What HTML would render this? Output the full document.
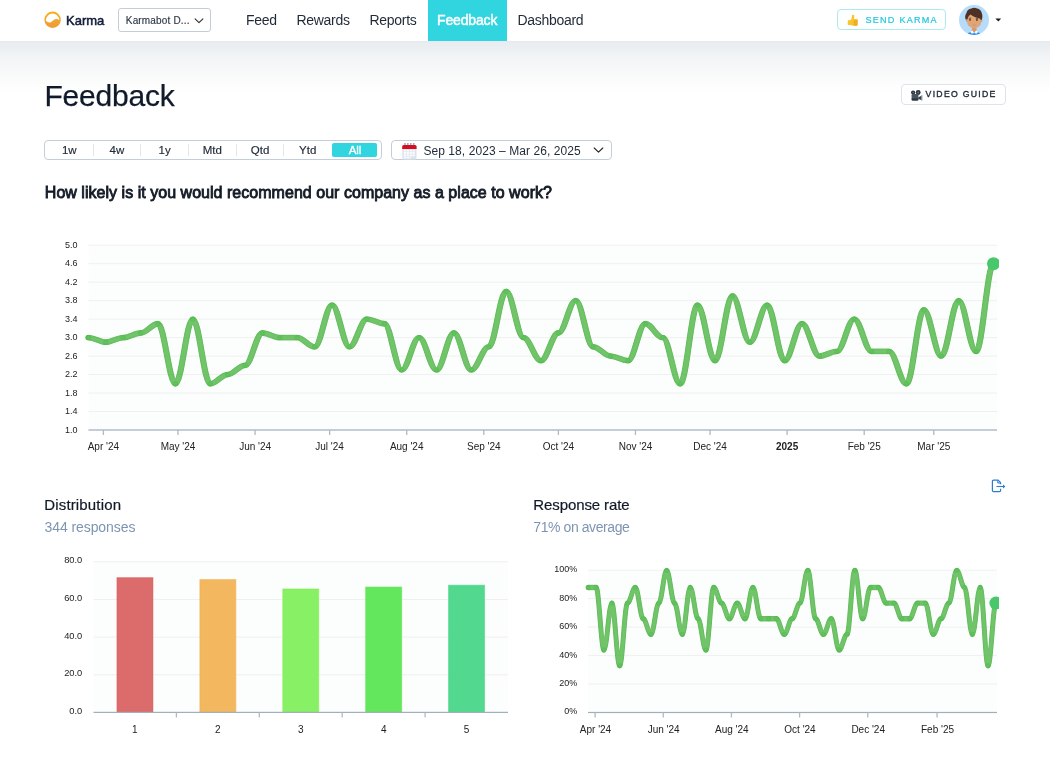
<!DOCTYPE html>
<html lang="en">
<head>
<meta charset="utf-8">
<title>Karma – Feedback</title>
<style>
*{box-sizing:border-box;margin:0;padding:0}
html,body{width:1050px;height:774px;overflow:hidden;background:#fff}
body{font-family:"Liberation Sans",sans-serif;color:#111827;position:relative;-webkit-font-smoothing:antialiased}
.abs{position:absolute;white-space:nowrap}
#fade{left:0;top:41px;width:1050px;height:52px;background:linear-gradient(#e4e7ec,#e9ecf0 3%,#f3f5f7 35%,#f9fafa 66%,#fff)}
#hdr{left:0;top:0;width:1050px;height:41px;background:#fff}
#brand{left:66px;top:13.100px;font-size:13px;color:#101c3a;line-height:16px;-webkit-text-stroke:.5px #101c3a}
#sel{left:118px;top:8px;width:93px;height:24px;border:1px solid #c3cedb;border-radius:3px;background:#fff}
#sel span{position:absolute;left:6.8px;top:6.4px;font-size:10px;line-height:12px;color:#2e3844;letter-spacing:.17px;-webkit-text-stroke:.15px #2e3844}
.nav{top:11.8px;font-size:14px;line-height:16px;color:#1f2937;letter-spacing:-.3px}
#tab{left:427.7px;top:0;width:79.6px;height:41px;background:#30d5e0}
#tabt{color:#fff;letter-spacing:-.15px;-webkit-text-stroke:.45px #fff}
#send{left:837px;top:9px;width:109.3px;height:20.6px;border:1px solid #b0e8f0;border-radius:4px;background:#fdffff}
#send span{position:absolute;left:27.5px;top:4.900px;font-size:9.1px;line-height:11px;letter-spacing:1.22px;color:#22c6da;-webkit-text-stroke:.2px #22c6da}
#vg{left:900.8px;top:84.1px;width:105px;height:20.500px;border:1px solid #dde3ea;border-radius:4px;background:#fff}
#vg span{position:absolute;left:23.8px;top:3.900px;font-size:8.7px;line-height:11px;letter-spacing:1.28px;color:#1c2838;-webkit-text-stroke:.35px #1c2838}
#h1{left:44.400px;top:79.100px;font-size:30px;line-height:34px;color:#101a2b;letter-spacing:-0.2px;-webkit-text-stroke:.25px #101a2b}
#seg{left:44px;top:140px;width:337.600px;height:20px;border:1px solid #c3cedb;border-radius:4px;background:#fff}
#seg i{position:absolute;top:3.2px;width:1px;height:11.6px;background:#e1e6ec}
#seg b{position:absolute;top:2.9px;font-weight:normal;font-size:11.5px;line-height:13px;color:#222b38;text-align:center;width:47.700px;-webkit-text-stroke:.15px #222b38}
#seg u{position:absolute;left:287px;top:2.2px;width:45.3px;height:14px;background:#30d5e0;border-radius:2px}
#date{left:391px;top:140px;width:220.600px;height:20px;border:1px solid #c3cedb;border-radius:4px;background:#fff}
#date span{position:absolute;left:31.4px;top:2.8px;font-size:12px;line-height:14px;color:#1f2937;letter-spacing:.07px}
#q{left:44.8px;top:182.8px;font-size:16px;line-height:19px;color:#141b26;letter-spacing:.03px;-webkit-text-stroke:.85px #141b26}
.t{font-size:15px;line-height:18px;color:#111827}
.s{font-size:14px;line-height:17px;color:#7e95b2}
svg.charts{position:absolute;left:0;top:0}
</style>
</head>
<body>
<div id="root" style="position:absolute;left:0;top:0;width:1050px;height:774px;will-change:transform">
<div id="fade" class="abs"></div>
<div id="hdr" class="abs"></div>

<svg class="abs" style="left:43px;top:10px" width="20" height="20" viewBox="0 0 20 20">
  <defs><linearGradient id="lg" x1="0" y1="0" x2="0" y2="1"><stop offset="0" stop-color="#f7b01c"/><stop offset="1" stop-color="#ee9a3a"/></linearGradient></defs>
  <circle cx="9.6" cy="9.8" r="8.2" fill="url(#lg)"/>
  <path d="M2.9,10.4 C3.6,11.6 5.6,12.9 7.8,12.2 C10,11.5 10.6,9.2 12.9,9.1 C14.6,9.0 15.6,9.8 16.3,10.2 A6.7,6.7 0 0 0 2.9,10.4 Z" fill="#fff"/>
</svg>
<div id="brand" class="abs">Karma</div>

<div id="sel" class="abs"><span>Karmabot D...</span>
  <svg style="position:absolute;left:75.200px;top:9px" width="10" height="6.400" viewBox="0 0 11 7"><path d="M1.2,1 L5.5,5.2 L9.8,1" fill="none" stroke="#2a2a2a" stroke-width="1.15" stroke-linecap="round" stroke-linejoin="round"/></svg>
</div>

<div id="tab" class="abs"></div>
<div class="abs nav" style="left:246px">Feed</div>
<div class="abs nav" style="left:296.5px">Rewards</div>
<div class="abs nav" style="left:369.5px">Reports</div>
<div class="abs nav" id="tabt" style="left:437px">Feedback</div>
<div class="abs nav" style="left:517.5px">Dashboard</div>

<div id="send" class="abs">
  <svg style="position:absolute;left:8.800px;top:4px" width="12" height="13" viewBox="-0.500 -0.500 12 13">
    <path d="M0.300,6.200 Q0.200,5.700 0.900,5.700 L3.200,5.600 C4,4.500 4.400,3 4.500,1.200 C4.600,0 6.600,-0.100 6.800,1.400 C6.900,2.600 6.700,3.600 6.400,4.600 L9.600,4.600 Q10.500,4.700 10.400,5.600 L10.200,10.400 Q10.100,11.400 9.100,11.400 L5.600,11.300 C4.600,11.200 3.800,10.800 3.200,10.400 L0.900,10.400 Q0.200,10.400 0.200,9.800 Z" fill="#fbc42f"/>
    <rect x="6.100" y="5.900" width="3.800" height="4.800" rx=".7" fill="#eaa31f" opacity=".8"/>
    <path d="M6.300,7.500 H9.800 M6.300,9.100 H9.800" stroke="#f6bb3a" stroke-width=".4"/>
  </svg>
  <span>SEND KARMA</span>
</div>

<svg class="abs" style="left:959px;top:5.1px" width="30" height="30" viewBox="0 0 30 30">
  <defs><clipPath id="av"><circle cx="15" cy="15" r="15"/></clipPath></defs>
  <circle cx="15" cy="15" r="15" fill="#b6dcfb"/>
  <g clip-path="url(#av)">
    <path d="M8,31 C8,27.6 10.5,26.9 15.1,26.9 C19.6,26.9 21.6,27.600 21.600,31 Z" fill="#2f8be6"/>
    <rect x="12.800" y="20.500" width="4.800" height="6.800" rx="1.500" fill="#d89a69"/>
    <path d="M11.400,27.100 L13.300,25.500 L15.200,28.100 L12.900,28.700 Z M19,27.100 L17.100,25.500 L15.200,28.100 L17.500,28.700 Z" fill="#fbfdff"/>
    <circle cx="8" cy="15.800" r="1.200" fill="#d99e6e"/><circle cx="22.300" cy="15.800" r="1.200" fill="#d99e6e"/>
    <path d="M7.900,13 C7.900,9 11,7.500 15.100,7.500 C19.500,7.500 22.400,9 22.400,13 L22.200,17 C22.100,20.600 19.500,22.900 15.100,22.900 C11,22.900 8.200,20.600 8.100,17 Z" fill="#dea678"/>
    <path d="M6.700,14.600 C5.800,12.400 6.100,9.800 7.400,8.200 C7.600,5.600 9.900,3.700 12.400,3.500 C14,2.600 16.600,2.700 18.100,3.600 C20.600,4 22.600,6 22.900,8.500 C23.700,10.500 23.500,13.200 22.700,15 L21.500,14.800 C21.500,13.900 21,13.400 20.300,13.400 C17.400,12.800 14,11.300 11.300,9.500 C10,10.600 8.900,12.100 8.400,14.400 Z" fill="#4f3024"/>
    <ellipse cx="11" cy="14.800" rx="1" ry="1.150" fill="#6a4733"/><ellipse cx="17.900" cy="14.900" rx="1" ry="1.150" fill="#6a4733"/>
    <path d="M9.800,13.300 L12.200,13.100 M16.800,13.300 L19.100,13.500" stroke="#5a3828" stroke-width=".7"/>
    <path d="M13.500,19.900 Q15.100,20.700 16.700,19.900" stroke="#c58c60" stroke-width=".7" fill="none"/>
  </g>
</svg>
<svg class="abs" style="left:995px;top:17.800px" width="7" height="4" viewBox="0 0 7 4"><path d="M.4,.4 L6.200,.4 L3.300,3.500 Z" fill="#1b1b1b"/></svg>

<div id="vg" class="abs">
  <svg style="position:absolute;left:7.800px;top:3.600px" width="13" height="13" viewBox="0 0 13 13">
    <circle cx="3.100" cy="3.500" r="2.100" fill="#27313a"/><circle cx="8.200" cy="3.500" r="2.400" fill="#27313a"/>
    <circle cx="3.100" cy="3.500" r=".8" fill="#6d7780"/><circle cx="8.200" cy="3.500" r=".9" fill="#6d7780"/>
    <rect x="1.600" y="5.100" width="6.800" height="6.500" rx="1.200" fill="#4a5560"/>
    <path d="M1.700,9.500 H8.300 V10.500 Q8.300,11.600 7.200,11.600 H2.800 Q1.700,11.600 1.700,10.500 Z" fill="#2a323a"/>
    <path d="M8.200,8.600 L12.200,6.300 L12.200,11.600 L8.200,9.800 Z" fill="#34414c"/>
    <path d="M11.300,6.800 L12.200,6.300 L12.200,11.600 L11.300,11.200 Z" fill="#aab2b9"/>
  </svg>
  <span>VIDEO GUIDE</span>
</div>

<div id="h1" class="abs">Feedback</div>

<div id="seg" class="abs">
  <b style="left:.4px">1w</b><i style="left:47.600px"></i>
  <b style="left:48.100px">4w</b><i style="left:95.300px"></i>
  <b style="left:95.800px">1y</b><i style="left:143px"></i>
  <b style="left:143.500px">Mtd</b><i style="left:190.700px"></i>
  <b style="left:191.200px">Qtd</b><i style="left:238.400px"></i>
  <b style="left:238.900px">Ytd</b>
  <u></u><b style="left:286.200px;color:#fff;-webkit-text-stroke:.3px #fff">All</b>
</div>

<div id="date" class="abs">
  <svg style="position:absolute;left:9.100px;top:.600px" width="16" height="18" viewBox="0 0 16 18">
    <rect x="1.300" y="5" width="14.200" height="12.400" rx="1.600" fill="#dbe3ec"/>
    <g fill="#fbfcfe"><rect x="2.700" y="7.600" width="2.300" height="1.900"/><rect x="5.600" y="7.600" width="2.300" height="1.900"/><rect x="8.500" y="7.600" width="2.300" height="1.900"/><rect x="11.400" y="7.600" width="2.300" height="1.900"/>
    <rect x="2.700" y="10" width="2.300" height="1.900"/><rect x="5.600" y="10" width="2.300" height="1.900"/><rect x="8.500" y="10" width="2.300" height="1.900"/><rect x="11.400" y="10" width="2.300" height="1.900"/>
    <rect x="2.700" y="12.400" width="2.300" height="1.900"/><rect x="5.600" y="12.400" width="2.300" height="1.900"/><rect x="8.500" y="12.400" width="2.300" height="1.900"/><rect x="11.400" y="12.400" width="2.300" height="1.900"/>
    <rect x="2.700" y="14.800" width="2.300" height="1.700"/><rect x="5.600" y="14.800" width="2.300" height="1.700"/><rect x="8.500" y="14.800" width="1.300" height="1.700"/></g>
    <path d="M1.200,7.100 L1.200,4.600 Q1.200,3 2.800,3 L14,3 Q15.600,3 15.600,4.600 L15.600,7.100 Z" fill="#e3071d"/>
    <g fill="none" stroke="#4a5058" stroke-width=".7"><path d="M4,4.800 V1.700 M6.900,4.800 V1.700 M9.900,4.800 V1.700 M12.800,4.800 V1.700"/></g>
    <g fill="#8d959c"><circle cx="4" cy="1.600" r=".7"/><circle cx="6.900" cy="1.600" r=".7"/><circle cx="9.900" cy="1.600" r=".7"/><circle cx="12.800" cy="1.600" r=".7"/></g>
  </svg>
  <span>Sep 18, 2023 – Mar 26, 2025</span>
  <svg style="position:absolute;left:201.3px;top:6.3px" width="11" height="7" viewBox="0 0 11 7"><path d="M1.2,1 L5.500,5.2 L9.8,1" fill="none" stroke="#2a2a2a" stroke-width="1.15" stroke-linecap="round" stroke-linejoin="round"/></svg>
</div>

<div id="q" class="abs">How likely is it you would recommend our company as a place to work?</div>

<div class="abs t" style="left:44.3px;top:496.400px;letter-spacing:.15px;-webkit-text-stroke:.2px #111827">Distribution</div>
<div class="abs s" style="left:44.5px;top:518.600px;letter-spacing:-.08px">344 responses</div>
<div class="abs t" style="left:533.3px;top:496.400px;letter-spacing:-.1px;-webkit-text-stroke:.2px #111827">Response rate</div>
<div class="abs s" style="left:533.3px;top:518.600px;letter-spacing:-.42px">71% on average</div>

<svg class="abs" style="left:990px;top:478px" width="18" height="16" viewBox="0 0 18 16">
  <path d="M10.600,6.200 L10.600,4.600 L8.200,2.200 L3.600,2.200 Q2.400,2.200 2.400,3.400 L2.400,12.400 Q2.400,13.600 3.600,13.600 L9.400,13.600 Q10.600,13.600 10.600,12.400 L10.600,10.800" fill="none" stroke="#2e7ccc" stroke-width="1.200" stroke-linejoin="round"/>
  <path d="M7.800,2.400 L7.800,5 L10.400,5" fill="none" stroke="#2e7ccc" stroke-width="1"/>
  <path d="M6.400,8.500 L13.600,8.500" stroke="#2e7ccc" stroke-width="1.100"/>
  <path d="M13,6.600 L15.400,8.500 L13,10.400 Z" fill="#2e7ccc"/>
</svg>

<svg class="charts" width="1050" height="774" viewBox="0 0 1050 774" font-family="Liberation Sans, sans-serif" font-size="10" fill="#222">
<defs><filter id="us" filterUnits="userSpaceOnUse" x="0" y="200" width="1100" height="574"><feGaussianBlur stdDeviation="0.9" result="b"/><feComposite in="SourceGraphic" in2="b" operator="arithmetic" k1="0" k2="1.3" k3="-0.3" k4="0"/></filter></defs>
<rect x="88.4" y="245.2" width="908.6" height="184.8" fill="#fcfdfd"/>
<rect x="88.4" y="244.70" width="908.6" height="1" fill="#f0f0f0"/>
<rect x="88.4" y="263.18" width="908.6" height="1" fill="#f0f0f0"/>
<rect x="88.4" y="281.66" width="908.6" height="1" fill="#f0f0f0"/>
<rect x="88.4" y="300.14" width="908.6" height="1" fill="#f0f0f0"/>
<rect x="88.4" y="318.62" width="908.6" height="1" fill="#f0f0f0"/>
<rect x="88.4" y="337.10" width="908.6" height="1" fill="#f0f0f0"/>
<rect x="88.4" y="355.58" width="908.6" height="1" fill="#f0f0f0"/>
<rect x="88.4" y="374.06" width="908.6" height="1" fill="#f0f0f0"/>
<rect x="88.4" y="392.54" width="908.6" height="1" fill="#f0f0f0"/>
<rect x="88.4" y="411.02" width="908.6" height="1" fill="#f0f0f0"/>
<text x="77.6" y="247.8" text-anchor="end" font-size="9">5.0</text>
<text x="77.6" y="266.3" text-anchor="end" font-size="9">4.6</text>
<text x="77.6" y="284.8" text-anchor="end" font-size="9">4.2</text>
<text x="77.6" y="303.2" text-anchor="end" font-size="9">3.8</text>
<text x="77.6" y="321.7" text-anchor="end" font-size="9">3.4</text>
<text x="77.6" y="340.2" text-anchor="end" font-size="9">3.0</text>
<text x="77.6" y="358.7" text-anchor="end" font-size="9">2.6</text>
<text x="77.6" y="377.2" text-anchor="end" font-size="9">2.2</text>
<text x="77.6" y="395.6" text-anchor="end" font-size="9">1.8</text>
<text x="77.6" y="414.1" text-anchor="end" font-size="9">1.4</text>
<text x="77.6" y="432.6" text-anchor="end" font-size="9">1.0</text>
<rect x="88.4" y="429.4" width="908.6" height="1.2" fill="#a0afbb"/>
<rect x="102.75" y="430.0" width="1.3" height="5" fill="#aebac5"/>
<text x="103.4" y="450" text-anchor="middle">Apr '24</text>
<rect x="177.34" y="430.0" width="1.3" height="5" fill="#aebac5"/>
<text x="178.0" y="450" text-anchor="middle">May '24</text>
<rect x="254.41" y="430.0" width="1.3" height="5" fill="#aebac5"/>
<text x="255.1" y="450" text-anchor="middle">Jun '24</text>
<rect x="329.00" y="430.0" width="1.3" height="5" fill="#aebac5"/>
<text x="329.6" y="450" text-anchor="middle">Jul '24</text>
<rect x="406.07" y="430.0" width="1.3" height="5" fill="#aebac5"/>
<text x="406.7" y="450" text-anchor="middle">Aug '24</text>
<rect x="483.14" y="430.0" width="1.3" height="5" fill="#aebac5"/>
<text x="483.8" y="450" text-anchor="middle">Sep '24</text>
<rect x="557.73" y="430.0" width="1.3" height="5" fill="#aebac5"/>
<text x="558.4" y="450" text-anchor="middle">Oct '24</text>
<rect x="634.80" y="430.0" width="1.3" height="5" fill="#aebac5"/>
<text x="635.5" y="450" text-anchor="middle">Nov '24</text>
<rect x="709.39" y="430.0" width="1.3" height="5" fill="#aebac5"/>
<text x="710.0" y="450" text-anchor="middle">Dec '24</text>
<rect x="786.46" y="430.0" width="1.3" height="5" fill="#aebac5"/>
<text x="787.1" y="450" text-anchor="middle" font-weight="bold">2025</text>
<rect x="863.54" y="430.0" width="1.3" height="5" fill="#aebac5"/>
<text x="864.2" y="450" text-anchor="middle">Feb '25</text>
<rect x="933.15" y="430.0" width="1.3" height="5" fill="#aebac5"/>
<text x="933.8" y="450" text-anchor="middle">Mar '25</text>
<svg x="0" y="0" width="999" height="774" viewBox="0 0 999 774" overflow="hidden">
<g transform="scale(1.08,1)" filter="url(#us)"><path d="M81.85,337.60 C87.65,337.60 92.17,342.22 97.97,342.22 C103.77,342.22 108.28,337.60 114.08,337.60 C119.89,337.60 124.40,332.98 130.20,332.98 C136.00,332.98 140.52,323.74 146.32,323.74 C152.12,323.74 156.63,383.80 162.43,383.80 C168.24,383.80 172.75,319.12 178.55,319.12 C184.35,319.12 188.87,383.80 194.67,383.80 C200.47,383.80 204.98,374.56 210.78,374.56 C216.59,374.56 221.10,365.32 226.90,365.32 C232.70,365.32 237.21,332.98 243.02,332.98 C248.82,332.98 253.33,337.60 259.13,337.60 C264.93,337.60 269.45,337.60 275.25,337.60 C281.05,337.60 285.56,346.84 291.37,346.84 C297.17,346.84 301.68,305.26 307.48,305.26 C313.28,305.26 317.80,346.84 323.60,346.84 C329.40,346.84 333.91,319.12 339.72,319.12 C345.52,319.12 350.03,323.74 355.83,323.74 C361.63,323.74 366.15,369.94 371.95,369.94 C377.75,369.94 382.26,337.60 388.06,337.60 C393.87,337.60 398.38,369.94 404.18,369.94 C409.98,369.94 414.50,332.98 420.30,332.98 C426.10,332.98 430.61,369.94 436.41,369.94 C442.22,369.94 446.73,346.84 452.53,346.84 C458.33,346.84 462.84,291.40 468.65,291.40 C474.45,291.40 478.96,337.60 484.76,337.60 C490.57,337.60 495.08,360.70 500.88,360.70 C506.68,360.70 511.19,332.98 517.00,332.98 C522.80,332.98 527.31,300.64 533.11,300.64 C538.91,300.64 543.43,346.84 549.23,346.84 C555.03,346.84 559.54,356.08 565.35,356.08 C571.15,356.08 575.66,360.70 581.46,360.70 C587.26,360.70 591.78,323.74 597.58,323.74 C603.38,323.74 607.89,337.60 613.69,337.60 C619.50,337.60 624.01,383.80 629.81,383.80 C635.61,383.80 640.13,305.26 645.93,305.26 C651.73,305.26 656.24,360.70 662.04,360.70 C667.85,360.70 672.36,296.02 678.16,296.02 C683.96,296.02 688.48,342.22 694.28,342.22 C700.08,342.22 704.59,305.26 710.39,305.26 C716.20,305.26 720.71,360.70 726.51,360.70 C732.31,360.70 736.82,323.74 742.63,323.74 C748.43,323.74 752.94,356.08 758.74,356.08 C764.54,356.08 769.06,351.46 774.86,351.46 C780.66,351.46 785.17,319.12 790.98,319.12 C796.78,319.12 801.29,351.46 807.09,351.46 C812.89,351.46 817.41,351.46 823.21,351.46 C829.01,351.46 833.52,383.80 839.33,383.80 C845.13,383.80 849.64,309.88 855.44,309.88 C861.24,309.88 865.76,356.08 871.56,356.08 C877.36,356.08 881.87,300.64 887.67,300.64 C893.48,300.64 897.99,351.46 903.79,351.46 C909.59,351.46 914.11,263.68 919.91,263.68" fill="none" stroke="#4bb543" stroke-opacity="0.78" stroke-width="5.8" stroke-linecap="round" stroke-linejoin="round"/></g>
<g fill="#3fae38" fill-opacity="0.3"><circle cx="88.40" cy="337.60" r="2.7"/><circle cx="105.81" cy="342.22" r="2.7"/><circle cx="123.21" cy="337.60" r="2.7"/><circle cx="140.62" cy="332.98" r="2.7"/><circle cx="158.02" cy="323.74" r="2.7"/><circle cx="175.43" cy="383.80" r="2.7"/><circle cx="192.83" cy="319.12" r="2.7"/><circle cx="210.24" cy="383.80" r="2.7"/><circle cx="227.65" cy="374.56" r="2.7"/><circle cx="245.05" cy="365.32" r="2.7"/><circle cx="262.46" cy="332.98" r="2.7"/><circle cx="279.86" cy="337.60" r="2.7"/><circle cx="297.27" cy="337.60" r="2.7"/><circle cx="314.68" cy="346.84" r="2.7"/><circle cx="332.08" cy="305.26" r="2.7"/><circle cx="349.49" cy="346.84" r="2.7"/><circle cx="366.89" cy="319.12" r="2.7"/><circle cx="384.30" cy="323.74" r="2.7"/><circle cx="401.70" cy="369.94" r="2.7"/><circle cx="419.11" cy="337.60" r="2.7"/><circle cx="436.52" cy="369.94" r="2.7"/><circle cx="453.92" cy="332.98" r="2.7"/><circle cx="471.33" cy="369.94" r="2.7"/><circle cx="488.73" cy="346.84" r="2.7"/><circle cx="506.14" cy="291.40" r="2.7"/><circle cx="523.54" cy="337.60" r="2.7"/><circle cx="540.95" cy="360.70" r="2.7"/><circle cx="558.36" cy="332.98" r="2.7"/><circle cx="575.76" cy="300.64" r="2.7"/><circle cx="593.17" cy="346.84" r="2.7"/><circle cx="610.57" cy="356.08" r="2.7"/><circle cx="627.98" cy="360.70" r="2.7"/><circle cx="645.38" cy="323.74" r="2.7"/><circle cx="662.79" cy="337.60" r="2.7"/><circle cx="680.20" cy="383.80" r="2.7"/><circle cx="697.60" cy="305.26" r="2.7"/><circle cx="715.01" cy="360.70" r="2.7"/><circle cx="732.41" cy="296.02" r="2.7"/><circle cx="749.82" cy="342.22" r="2.7"/><circle cx="767.23" cy="305.26" r="2.7"/><circle cx="784.63" cy="360.70" r="2.7"/><circle cx="802.04" cy="323.74" r="2.7"/><circle cx="819.44" cy="356.08" r="2.7"/><circle cx="836.85" cy="351.46" r="2.7"/><circle cx="854.25" cy="319.12" r="2.7"/><circle cx="871.66" cy="351.46" r="2.7"/><circle cx="889.07" cy="351.46" r="2.7"/><circle cx="906.47" cy="383.80" r="2.7"/><circle cx="923.88" cy="309.88" r="2.7"/><circle cx="941.28" cy="356.08" r="2.7"/><circle cx="958.69" cy="300.64" r="2.7"/><circle cx="976.09" cy="351.46" r="2.7"/></g>
<g fill="#43d96c" fill-opacity="0.7"><circle cx="88.40" cy="337.60" r="0.8"/><circle cx="105.81" cy="342.22" r="0.8"/><circle cx="123.21" cy="337.60" r="0.8"/><circle cx="140.62" cy="332.98" r="0.8"/><circle cx="158.02" cy="323.74" r="0.8"/><circle cx="175.43" cy="383.80" r="0.8"/><circle cx="192.83" cy="319.12" r="0.8"/><circle cx="210.24" cy="383.80" r="0.8"/><circle cx="227.65" cy="374.56" r="0.8"/><circle cx="245.05" cy="365.32" r="0.8"/><circle cx="262.46" cy="332.98" r="0.8"/><circle cx="279.86" cy="337.60" r="0.8"/><circle cx="297.27" cy="337.60" r="0.8"/><circle cx="314.68" cy="346.84" r="0.8"/><circle cx="332.08" cy="305.26" r="0.8"/><circle cx="349.49" cy="346.84" r="0.8"/><circle cx="366.89" cy="319.12" r="0.8"/><circle cx="384.30" cy="323.74" r="0.8"/><circle cx="401.70" cy="369.94" r="0.8"/><circle cx="419.11" cy="337.60" r="0.8"/><circle cx="436.52" cy="369.94" r="0.8"/><circle cx="453.92" cy="332.98" r="0.8"/><circle cx="471.33" cy="369.94" r="0.8"/><circle cx="488.73" cy="346.84" r="0.8"/><circle cx="506.14" cy="291.40" r="0.8"/><circle cx="523.54" cy="337.60" r="0.8"/><circle cx="540.95" cy="360.70" r="0.8"/><circle cx="558.36" cy="332.98" r="0.8"/><circle cx="575.76" cy="300.64" r="0.8"/><circle cx="593.17" cy="346.84" r="0.8"/><circle cx="610.57" cy="356.08" r="0.8"/><circle cx="627.98" cy="360.70" r="0.8"/><circle cx="645.38" cy="323.74" r="0.8"/><circle cx="662.79" cy="337.60" r="0.8"/><circle cx="680.20" cy="383.80" r="0.8"/><circle cx="697.60" cy="305.26" r="0.8"/><circle cx="715.01" cy="360.70" r="0.8"/><circle cx="732.41" cy="296.02" r="0.8"/><circle cx="749.82" cy="342.22" r="0.8"/><circle cx="767.23" cy="305.26" r="0.8"/><circle cx="784.63" cy="360.70" r="0.8"/><circle cx="802.04" cy="323.74" r="0.8"/><circle cx="819.44" cy="356.08" r="0.8"/><circle cx="836.85" cy="351.46" r="0.8"/><circle cx="854.25" cy="319.12" r="0.8"/><circle cx="871.66" cy="351.46" r="0.8"/><circle cx="889.07" cy="351.46" r="0.8"/><circle cx="906.47" cy="383.80" r="0.8"/><circle cx="923.88" cy="309.88" r="0.8"/><circle cx="941.28" cy="356.08" r="0.8"/><circle cx="958.69" cy="300.64" r="0.8"/><circle cx="976.09" cy="351.46" r="0.8"/></g>
<circle cx="993.50" cy="263.68" r="6.5" fill="#49c76b"/>

</svg>
<rect x="93.5" y="561.8" width="414.5" height="150.6" fill="#fcfdfd"/>
<rect x="93.5" y="561.30" width="414.5" height="1" fill="#f0f0f0"/>
<rect x="93.5" y="598.95" width="414.5" height="1" fill="#f0f0f0"/>
<rect x="93.5" y="636.60" width="414.5" height="1" fill="#f0f0f0"/>
<rect x="93.5" y="674.25" width="414.5" height="1" fill="#f0f0f0"/>
<text x="82.3" y="563.3" text-anchor="end" font-size="9.3">80.0</text>
<text x="82.3" y="600.9" text-anchor="end" font-size="9.3">60.0</text>
<text x="82.3" y="638.6" text-anchor="end" font-size="9.3">40.0</text>
<text x="82.3" y="676.2" text-anchor="end" font-size="9.3">20.0</text>
<text x="82.3" y="713.9" text-anchor="end" font-size="9.3">0.0</text>
<rect x="116.95" y="577.66" width="36.00" height="134.74" fill="#dc6c6b" stroke="#d9534f" stroke-opacity="0.5" stroke-width="1"/>
<text x="134.9" y="732.6" text-anchor="middle">1</text>
<rect x="199.85" y="579.54" width="36.00" height="132.86" fill="#f3b85f" stroke="#f0ad4e" stroke-opacity="0.5" stroke-width="1"/>
<text x="217.9" y="732.6" text-anchor="middle">2</text>
<rect x="282.75" y="588.95" width="36.00" height="123.45" fill="#87f064" stroke="#7cf04c" stroke-opacity="0.5" stroke-width="1"/>
<text x="300.8" y="732.6" text-anchor="middle">3</text>
<rect x="365.65" y="587.07" width="36.00" height="125.33" fill="#63e75d" stroke="#4de443" stroke-opacity="0.5" stroke-width="1"/>
<text x="383.7" y="732.6" text-anchor="middle">4</text>
<rect x="448.55" y="585.19" width="36.00" height="127.21" fill="#53d890" stroke="#3dd486" stroke-opacity="0.5" stroke-width="1"/>
<text x="466.6" y="732.6" text-anchor="middle">5</text>
<rect x="93.5" y="711.8" width="414.5" height="1.2" fill="#a0afbb"/>
<rect x="175.75" y="712.4" width="1.3" height="5" fill="#aebac5"/>
<rect x="258.65" y="712.4" width="1.3" height="5" fill="#aebac5"/>
<rect x="341.55" y="712.4" width="1.3" height="5" fill="#aebac5"/>
<rect x="424.45" y="712.4" width="1.3" height="5" fill="#aebac5"/>
<rect x="588.0" y="570.2" width="409.0" height="142.3" fill="#fcfdfd"/>
<rect x="588.0" y="569.70" width="409.0" height="1" fill="#f0f0f0"/>
<rect x="588.0" y="598.16" width="409.0" height="1" fill="#f0f0f0"/>
<rect x="588.0" y="626.62" width="409.0" height="1" fill="#f0f0f0"/>
<rect x="588.0" y="655.08" width="409.0" height="1" fill="#f0f0f0"/>
<rect x="588.0" y="683.54" width="409.0" height="1" fill="#f0f0f0"/>
<text x="577.3" y="572.1" text-anchor="end" font-size="9">100%</text>
<text x="577.3" y="600.6" text-anchor="end" font-size="9">80%</text>
<text x="577.3" y="629.0" text-anchor="end" font-size="9">60%</text>
<text x="577.3" y="657.5" text-anchor="end" font-size="9">40%</text>
<text x="577.3" y="685.9" text-anchor="end" font-size="9">20%</text>
<text x="577.3" y="714.4" text-anchor="end" font-size="9">0%</text>
<rect x="588.0" y="711.9" width="409.0" height="1.2" fill="#a0afbb"/>
<rect x="594.45" y="712.5" width="1.3" height="5" fill="#aebac5"/>
<text x="595.5" y="732.6" text-anchor="middle">Apr '24</text>
<rect x="662.62" y="712.5" width="1.3" height="5" fill="#aebac5"/>
<text x="663.7" y="732.6" text-anchor="middle">Jun '24</text>
<rect x="730.78" y="712.5" width="1.3" height="5" fill="#aebac5"/>
<text x="731.8" y="732.6" text-anchor="middle">Aug '24</text>
<rect x="798.95" y="712.5" width="1.3" height="5" fill="#aebac5"/>
<text x="800.0" y="732.6" text-anchor="middle">Oct '24</text>
<rect x="867.12" y="712.5" width="1.3" height="5" fill="#aebac5"/>
<text x="868.2" y="732.6" text-anchor="middle">Dec '24</text>
<rect x="936.40" y="712.5" width="1.3" height="5" fill="#aebac5"/>
<text x="937.5" y="732.6" text-anchor="middle">Feb '25</text>
<svg x="0" y="0" width="999" height="774" viewBox="0 0 999 774" overflow="hidden">
<g transform="scale(0.95,1)" filter="url(#us)"><path d="M619.26,587.43 C622.23,587.43 624.54,587.43 627.51,587.43 C630.48,587.43 632.79,650.04 635.77,650.04 C638.74,650.04 641.05,603.08 644.02,603.08 C646.99,603.08 649.30,665.69 652.27,665.69 C655.24,665.69 657.55,603.08 660.52,603.08 C663.49,603.08 665.80,587.43 668.77,587.43 C671.74,587.43 674.05,618.73 677.02,618.73 C679.99,618.73 682.30,634.38 685.27,634.38 C688.24,634.38 690.55,603.08 693.52,603.08 C696.49,603.08 698.80,570.35 701.77,570.35 C704.74,570.35 707.05,603.08 710.02,603.08 C712.99,603.08 715.30,634.38 718.28,634.38 C721.25,634.38 723.56,587.43 726.53,587.43 C729.50,587.43 731.81,618.73 734.78,618.73 C737.75,618.73 740.06,650.04 743.03,650.04 C746.00,650.04 748.31,587.43 751.28,587.43 C754.25,587.43 756.56,603.08 759.53,603.08 C762.50,603.08 764.81,618.73 767.78,618.73 C770.75,618.73 773.06,603.08 776.03,603.08 C779.00,603.08 781.31,618.73 784.28,618.73 C787.25,618.73 789.56,587.43 792.53,587.43 C795.50,587.43 797.82,618.73 800.79,618.73 C803.76,618.73 806.07,618.73 809.04,618.73 C812.01,618.73 814.32,618.73 817.29,618.73 C820.26,618.73 822.57,634.38 825.54,634.38 C828.51,634.38 830.82,618.73 833.79,618.73 C836.76,618.73 839.07,603.08 842.04,603.08 C845.01,603.08 847.32,570.35 850.29,570.35 C853.26,570.35 855.57,618.73 858.54,618.73 C861.51,618.73 863.82,634.38 866.79,634.38 C869.76,634.38 872.07,618.73 875.04,618.73 C878.01,618.73 880.33,650.04 883.30,650.04 C886.27,650.04 888.58,634.38 891.55,634.38 C894.52,634.38 896.83,570.35 899.80,570.35 C902.77,570.35 905.08,618.73 908.05,618.73 C911.02,618.73 913.33,587.43 916.30,587.43 C919.27,587.43 921.58,587.43 924.55,587.43 C927.52,587.43 929.83,603.08 932.80,603.08 C935.77,603.08 938.08,603.08 941.05,603.08 C944.02,603.08 946.33,618.73 949.30,618.73 C952.27,618.73 954.58,618.73 957.55,618.73 C960.53,618.73 962.84,603.08 965.81,603.08 C968.78,603.08 971.09,603.08 974.06,603.08 C977.03,603.08 979.34,634.38 982.31,634.38 C985.28,634.38 987.59,618.73 990.56,618.73 C993.53,618.73 995.84,603.08 998.81,603.08 C1001.78,603.08 1004.09,570.35 1007.06,570.35 C1010.03,570.35 1012.34,587.43 1015.31,587.43 C1018.28,587.43 1020.59,634.38 1023.56,634.38 C1026.53,634.38 1028.84,587.43 1031.81,587.43 C1034.78,587.43 1037.09,665.69 1040.06,665.69 C1043.04,665.69 1045.35,603.08 1048.32,603.08" fill="none" stroke="#4bb543" stroke-opacity="0.78" stroke-width="5.4" stroke-linecap="round" stroke-linejoin="round"/></g>
<g fill="#3fae38" fill-opacity="0.3"><circle cx="588.30" cy="587.43" r="2.7"/><circle cx="596.14" cy="587.43" r="2.7"/><circle cx="603.98" cy="650.04" r="2.7"/><circle cx="611.82" cy="603.08" r="2.7"/><circle cx="619.65" cy="665.69" r="2.7"/><circle cx="627.49" cy="603.08" r="2.7"/><circle cx="635.33" cy="587.43" r="2.7"/><circle cx="643.17" cy="618.73" r="2.7"/><circle cx="651.01" cy="634.38" r="2.7"/><circle cx="658.85" cy="603.08" r="2.7"/><circle cx="666.68" cy="570.35" r="2.7"/><circle cx="674.52" cy="603.08" r="2.7"/><circle cx="682.36" cy="634.38" r="2.7"/><circle cx="690.20" cy="587.43" r="2.7"/><circle cx="698.04" cy="618.73" r="2.7"/><circle cx="705.88" cy="650.04" r="2.7"/><circle cx="713.72" cy="587.43" r="2.7"/><circle cx="721.55" cy="603.08" r="2.7"/><circle cx="729.39" cy="618.73" r="2.7"/><circle cx="737.23" cy="603.08" r="2.7"/><circle cx="745.07" cy="618.73" r="2.7"/><circle cx="752.91" cy="587.43" r="2.7"/><circle cx="760.75" cy="618.73" r="2.7"/><circle cx="768.58" cy="618.73" r="2.7"/><circle cx="776.42" cy="618.73" r="2.7"/><circle cx="784.26" cy="634.38" r="2.7"/><circle cx="792.10" cy="618.73" r="2.7"/><circle cx="799.94" cy="603.08" r="2.7"/><circle cx="807.78" cy="570.35" r="2.7"/><circle cx="815.62" cy="618.73" r="2.7"/><circle cx="823.45" cy="634.38" r="2.7"/><circle cx="831.29" cy="618.73" r="2.7"/><circle cx="839.13" cy="650.04" r="2.7"/><circle cx="846.97" cy="634.38" r="2.7"/><circle cx="854.81" cy="570.35" r="2.7"/><circle cx="862.65" cy="618.73" r="2.7"/><circle cx="870.48" cy="587.43" r="2.7"/><circle cx="878.32" cy="587.43" r="2.7"/><circle cx="886.16" cy="603.08" r="2.7"/><circle cx="894.00" cy="603.08" r="2.7"/><circle cx="901.84" cy="618.73" r="2.7"/><circle cx="909.68" cy="618.73" r="2.7"/><circle cx="917.52" cy="603.08" r="2.7"/><circle cx="925.35" cy="603.08" r="2.7"/><circle cx="933.19" cy="634.38" r="2.7"/><circle cx="941.03" cy="618.73" r="2.7"/><circle cx="948.87" cy="603.08" r="2.7"/><circle cx="956.71" cy="570.35" r="2.7"/><circle cx="964.55" cy="587.43" r="2.7"/><circle cx="972.38" cy="634.38" r="2.7"/><circle cx="980.22" cy="587.43" r="2.7"/><circle cx="988.06" cy="665.69" r="2.7"/></g>
<g fill="#43d96c" fill-opacity="0.7"><circle cx="588.30" cy="587.43" r="0.8"/><circle cx="596.14" cy="587.43" r="0.8"/><circle cx="603.98" cy="650.04" r="0.8"/><circle cx="611.82" cy="603.08" r="0.8"/><circle cx="619.65" cy="665.69" r="0.8"/><circle cx="627.49" cy="603.08" r="0.8"/><circle cx="635.33" cy="587.43" r="0.8"/><circle cx="643.17" cy="618.73" r="0.8"/><circle cx="651.01" cy="634.38" r="0.8"/><circle cx="658.85" cy="603.08" r="0.8"/><circle cx="666.68" cy="570.35" r="0.8"/><circle cx="674.52" cy="603.08" r="0.8"/><circle cx="682.36" cy="634.38" r="0.8"/><circle cx="690.20" cy="587.43" r="0.8"/><circle cx="698.04" cy="618.73" r="0.8"/><circle cx="705.88" cy="650.04" r="0.8"/><circle cx="713.72" cy="587.43" r="0.8"/><circle cx="721.55" cy="603.08" r="0.8"/><circle cx="729.39" cy="618.73" r="0.8"/><circle cx="737.23" cy="603.08" r="0.8"/><circle cx="745.07" cy="618.73" r="0.8"/><circle cx="752.91" cy="587.43" r="0.8"/><circle cx="760.75" cy="618.73" r="0.8"/><circle cx="768.58" cy="618.73" r="0.8"/><circle cx="776.42" cy="618.73" r="0.8"/><circle cx="784.26" cy="634.38" r="0.8"/><circle cx="792.10" cy="618.73" r="0.8"/><circle cx="799.94" cy="603.08" r="0.8"/><circle cx="807.78" cy="570.35" r="0.8"/><circle cx="815.62" cy="618.73" r="0.8"/><circle cx="823.45" cy="634.38" r="0.8"/><circle cx="831.29" cy="618.73" r="0.8"/><circle cx="839.13" cy="650.04" r="0.8"/><circle cx="846.97" cy="634.38" r="0.8"/><circle cx="854.81" cy="570.35" r="0.8"/><circle cx="862.65" cy="618.73" r="0.8"/><circle cx="870.48" cy="587.43" r="0.8"/><circle cx="878.32" cy="587.43" r="0.8"/><circle cx="886.16" cy="603.08" r="0.8"/><circle cx="894.00" cy="603.08" r="0.8"/><circle cx="901.84" cy="618.73" r="0.8"/><circle cx="909.68" cy="618.73" r="0.8"/><circle cx="917.52" cy="603.08" r="0.8"/><circle cx="925.35" cy="603.08" r="0.8"/><circle cx="933.19" cy="634.38" r="0.8"/><circle cx="941.03" cy="618.73" r="0.8"/><circle cx="948.87" cy="603.08" r="0.8"/><circle cx="956.71" cy="570.35" r="0.8"/><circle cx="964.55" cy="587.43" r="0.8"/><circle cx="972.38" cy="634.38" r="0.8"/><circle cx="980.22" cy="587.43" r="0.8"/><circle cx="988.06" cy="665.69" r="0.8"/></g>
<circle cx="995.90" cy="603.08" r="6.5" fill="#49c76b"/>

</svg>
</svg>
</div>
</body>
</html>
